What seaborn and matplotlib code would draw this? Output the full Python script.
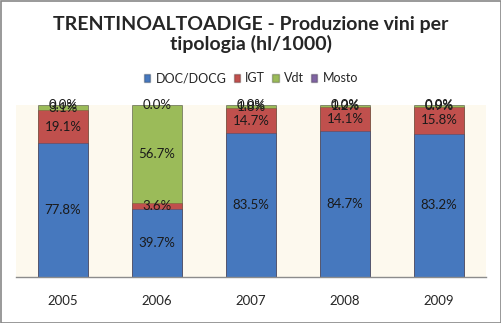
import matplotlib
matplotlib.use("Agg")
import matplotlib.pyplot as plt
import seaborn as sns
import pandas as pd
import numpy as np
from matplotlib.patches import Rectangle, Patch

years = ["2005", "2006", "2007", "2008", "2009"]
doc = [77.8, 39.7, 83.5, 84.7, 83.2]
igt = [19.1, 3.6, 14.7, 14.1, 15.8]
vdt = [3.1, 56.7, 1.8, 1.2, 0.9]
mosto = [0.0, 0.0, 0.0, 0.0, 0.0]

series_names = ["DOC/DOCG", "IGT", "Vdt", "Mosto"]
colors = ["#4678BE", "#C0504D", "#9BBB59", "#8064A2"]

sns.set_theme(style="white")
plt.rcParams['font.family'] = ['Lato', 'DejaVu Sans']

fig = plt.figure(figsize=(5.02, 3.23), dpi=100)
fig.patch.set_facecolor("white")
ax = fig.add_axes([16/502, 46/323, 470/502, 172/323])
ax.set_facecolor("#FDF9EE")

series = [doc, igt, vdt, mosto]
cum = np.cumsum(np.array(series), axis=0)
df = pd.DataFrame({"year": years})
# draw from top down so lower segments overlay upper
for i in range(3, -1, -1):
    df["v"] = cum[i]
    sns.barplot(data=df, x="year", y="v", color=colors[i], width=0.53,
                edgecolor="#00000030", linewidth=0.6, ax=ax, saturation=1)

# labels
for j in range(len(years)):
    base = 0
    for i in range(4):
        v = series[i][j]
        ax.text(j, base + v / 2, f"{v:.1f}%", ha="center", va="center",
                fontsize=9.5, color="#1a1a1a")
        base += v

ax.set_ylim(0, 100)
ax.set_xlim(-0.5, 4.5)
ax.set_xlabel("")
ax.set_ylabel("")
ax.set_yticks([])
ax.tick_params(axis="x", length=0, pad=13, labelsize=9.5)
for s in ["top", "left", "right"]:
    ax.spines[s].set_visible(False)
ax.spines["bottom"].set_color("#8C8C8C")
ax.spines["bottom"].set_linewidth(1)

fig.text(0.5, 0.893, "TRENTINOALTOADIGE - Produzione vini per\ntipologia (hl/1000)",
         ha="center", va="center", fontsize=14, fontweight="bold", linespacing=1.12)

handles = [Patch(facecolor=c, edgecolor="#00000040") for c in colors]
fig.legend(handles, series_names, loc="center", bbox_to_anchor=(0.5, 0.757), ncol=4,
           frameon=False, fontsize=9, handlelength=0.5, handleheight=0.5,
           handletextpad=0.4, columnspacing=0.6)

fig.patches.append(Rectangle((0.5/502, 0.5/323), 1 - 1.5/502, 1 - 1.5/323,
                             transform=fig.transFigure, fill=False,
                             edgecolor="#878787", linewidth=1.2))

fig.savefig("out.png", dpi=100)
